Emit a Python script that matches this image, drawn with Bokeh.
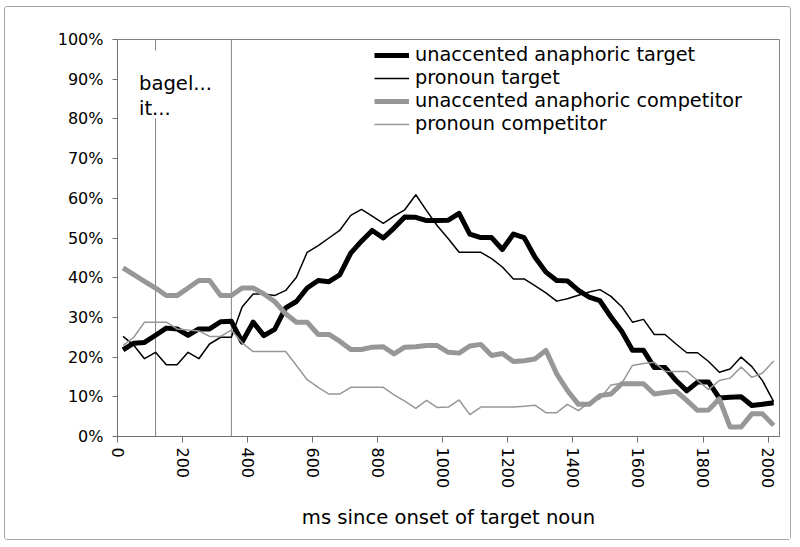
from bokeh.plotting import figure
from bokeh.models import FixedTicker, Span, BoxAnnotation, Label, Legend, LegendItem, Range1d
from bokeh.embed import file_html
from bokeh.resources import INLINE

# ---- data ----
time_ms = [17, 50, 83, 117, 150, 183, 217, 250, 283, 317, 350, 383, 417, 450, 483, 517,
           550, 583, 617, 650, 683, 717, 750, 783, 817, 850, 883, 917, 950, 983, 1017,
           1050, 1083, 1117, 1150, 1183, 1217, 1250, 1283, 1317, 1350, 1383, 1417, 1450,
           1483, 1517, 1550, 1583, 1617, 1650, 1683, 1717, 1750, 1783, 1817, 1850, 1883,
           1917, 1950, 1983, 2017]

unaccented_target = [21.8, 23.5, 23.7, 25.5, 27.3, 27.1, 25.5, 27.1, 27.1, 28.9, 29.0,
                     23.8, 28.8, 25.4, 27.0, 32.4, 34.0, 37.4, 39.3, 39.0, 40.7,
                     46.2, 49.2, 51.9, 50.0, 52.5, 55.3, 55.2, 54.4, 54.4, 54.5,
                     56.2, 51.0, 50.1, 50.1, 47.1, 51.0, 50.1, 45.2, 41.4, 39.3,
                     39.2, 36.8, 35.1, 34.2, 30.1, 26.5, 21.7, 21.7, 17.4, 17.4,
                     14.1, 11.5, 13.7, 13.7, 9.7, 9.9, 10.0, 7.8, 8.1, 8.5]

pronoun_target = [25.2, 23.0, 19.6, 21.2, 18.1, 18.1, 21.2, 19.6, 23.3, 25.0, 25.0,
                  32.6, 35.9, 35.9, 35.5, 36.8, 40.1, 46.4, 48.1, 50.0, 51.9,
                  55.7, 57.2, 55.5, 53.7, 55.5, 57.1, 60.9, 56.9, 53.1, 49.8,
                  46.4, 46.4, 46.4, 44.8, 42.7, 39.7, 39.7, 38.0, 36.2, 34.1,
                  34.7, 35.6, 36.4, 37.0, 35.3, 32.7, 28.8, 29.5, 25.7, 25.7,
                  23.3, 21.1, 21.1, 18.9, 16.2, 17.0, 20.0, 17.6, 14.0, 8.8]

unaccented_competitor = [42.5, 40.8, 39.1, 37.4, 35.5, 35.5, 37.4, 39.3, 39.3, 35.5, 35.5,
                         37.4, 37.4, 35.9, 34.0, 30.9, 28.8, 28.8, 25.7, 25.7, 24.0,
                         21.9, 21.9, 22.5, 22.6, 20.8, 22.5, 22.6, 22.9, 22.9, 21.2,
                         21.0, 22.8, 23.2, 20.4, 20.9, 18.9, 19.1, 19.5, 21.7, 15.8,
                         11.6, 8.1, 8.1, 10.3, 10.7, 13.3, 13.3, 13.3, 10.7, 11.1,
                         11.4, 9.1, 6.6, 6.7, 9.5, 2.4, 2.4, 5.7, 5.7, 2.8]

pronoun_competitor = [22.9, 25.0, 28.8, 28.8, 28.8, 27.1, 26.8, 26.6, 25.2, 25.2, 26.8,
                      23.6, 21.4, 21.4, 21.4, 21.4, 17.9, 14.3, 12.4, 10.7, 10.7,
                      12.4, 12.4, 12.4, 12.4, 10.5, 8.9, 7.1, 9.1, 7.3, 7.4,
                      9.2, 5.5, 7.4, 7.4, 7.4, 7.4, 7.6, 7.9, 6.0, 6.0,
                      8.1, 6.5, 8.6, 9.5, 13.0, 13.4, 17.9, 18.4, 18.7, 16.4,
                      16.4, 16.4, 14.1, 11.8, 14.1, 14.7, 17.5, 14.9, 16.0, 19.0]

series_labels = ["unaccented anaphoric target", "pronoun target",
                 "unaccented anaphoric competitor", "pronoun competitor"]

x_ticks = [0, 200, 400, 600, 800, 1000, 1200, 1400, 1600, 1800, 2000]
y_ticks = [0, 10, 20, 30, 40, 50, 60, 70, 80, 90, 100]
y_tick_labels = ["0%", "10%", "20%", "30%", "40%", "50%", "60%", "70%", "80%", "90%", "100%"]

word_offsets = [117, 350]
annotation_lines = ["bagel...", "it..."]

FONT = "DejaVu Sans"

p = figure(width=787, height=534, output_backend="svg", toolbar_location=None,
           x_range=Range1d(0, 2035), y_range=Range1d(0, 100),
           min_border_left=112, min_border_right=13, min_border_top=32,
           min_border_bottom=105)
p.styles = {"border": "1px solid #a6a6a6", "border-radius": "3px",
            "margin-left": "4px", "margin-top": "6px"}
p.background_fill_color = "white"
p.border_fill_color = "white"
p.outline_line_color = "#808080"
p.outline_line_width = 1
p.xgrid.visible = False
p.ygrid.visible = False

# word-offset reference lines
for t in word_offsets:
    p.add_layout(Span(location=t, dimension="height", line_color="#808080",
                      line_width=1, level="underlay"))
# white box behind the annotation text
p.add_layout(BoxAnnotation(left=20, right=300, bottom=80.1, top=97.2,
                           fill_color="white", fill_alpha=1.0, line_color=None,
                           level="underlay"))
p.add_layout(Label(x=66, y=89.0, text=annotation_lines[0], text_font=FONT,
                   text_font_size="19.6px", text_color="black", text_baseline="alphabetic"))
p.add_layout(Label(x=66, y=82.6, text=annotation_lines[1], text_font=FONT,
                   text_font_size="19.6px", text_color="black", text_baseline="alphabetic"))

r1 = p.line(time_ms, unaccented_target, line_color="black", line_width=5, line_join="round")
r2 = p.line(time_ms, pronoun_target, line_color="black", line_width=1.5, line_join="round")
r3 = p.line(time_ms, unaccented_competitor, line_color="#979797", line_width=5, line_join="round")
r4 = p.line(time_ms, pronoun_competitor, line_color="#979797", line_width=1.5, line_join="round")

legend = Legend(items=[LegendItem(label=series_labels[i], renderers=[r])
                       for i, r in enumerate([r1, r2, r3, r4])],
                location=(257, 301), orientation="vertical",
                label_text_font=FONT, label_text_font_size="19.3px",
                label_text_color="black", glyph_width=35, glyph_height=22,
                label_height=22, label_standoff=6, spacing=0, padding=0, margin=0,
                background_fill_alpha=0, border_line_color=None)
p.add_layout(legend)

# axes
p.xaxis.ticker = FixedTicker(ticks=x_ticks)
p.xaxis.major_label_orientation = "vertical"
p.xaxis.axis_label = "ms since onset of target noun"
p.xaxis.axis_label_text_font = FONT
p.xaxis.axis_label_text_font_size = "19.6px"
p.xaxis.axis_label_text_font_style = "normal"
p.xaxis.axis_label_text_color = "black"
p.xaxis.axis_label_standoff = 15
p.xaxis.major_tick_out = 6
p.xaxis.major_tick_in = 0
p.xaxis.minor_tick_out = 0
p.xaxis.minor_tick_in = 0
p.xaxis.major_label_standoff = 5

p.yaxis.ticker = FixedTicker(ticks=y_ticks)
p.yaxis.major_label_overrides = {t: lab for t, lab in zip(y_ticks, y_tick_labels)}
p.yaxis.major_tick_out = 5
p.yaxis.major_tick_in = 0
p.yaxis.minor_tick_out = 0
p.yaxis.minor_tick_in = 0
p.yaxis.major_label_standoff = 9

for ax in (p.xaxis, p.yaxis):
    ax.axis_line_color = "#707070"
    ax.major_tick_line_color = "#707070"
    ax.major_label_text_font = FONT
    ax.major_label_text_font_size = "16px"
    ax.major_label_text_color = "black"

open("out.html", "w").write(file_html(p, INLINE))
